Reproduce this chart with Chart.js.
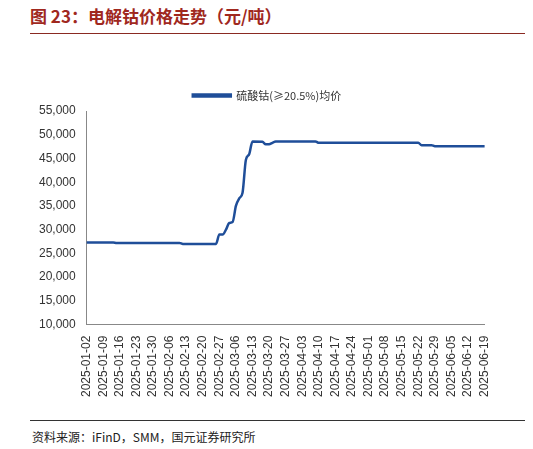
<!DOCTYPE html><html><head><meta charset="utf-8">
<script src="https://cdn.jsdelivr.net/npm/chart.js@4"></script>
<style>body{margin:0;width:533px;height:449px;background:#fff;font-family:"Noto Sans CJK SC",sans-serif;position:relative;overflow:hidden}
#t{position:absolute;left:30px;top:3px;font-size:17px;font-weight:bold;color:#a0281e}
#l1{position:absolute;left:30px;right:8px;top:33px;border-top:1.5px solid #8a2a22}
#l2{position:absolute;left:30px;right:8px;top:420px;border-top:1.5px solid #333}
#s{position:absolute;left:32px;top:428px;font-size:12px;color:#222}
#c{position:absolute;left:36px;top:80px}</style></head><body>
<div id="t">图 23：电解钴价格走势（元/吨）</div><div id="l1"></div>
<div id="c"><canvas id="cv" width="466" height="320"></canvas></div>
<div id="l2"></div><div id="s">资料来源：iFinD，SMM，国元证券研究所</div>
<script>
const seriesName='硫酸钴(≥20.5%)均价';
const keyDates=['2025-01-02','2025-01-14','2025-01-15','2025-02-11','2025-02-12','2025-02-26','2025-02-27','2025-02-28','2025-03-03','2025-03-04','2025-03-05','2025-03-06','2025-03-07','2025-03-10','2025-03-11','2025-03-12','2025-03-13','2025-03-18','2025-03-19','2025-03-20','2025-03-21','2025-03-24','2025-04-09','2025-04-10','2025-05-22','2025-05-23','2025-05-28','2025-05-29','2025-06-19'];
const keyValues=[27300,27300,27200,27200,27000,27000,29000,29000,30000,31400,31600,35000,36600,37800,44700,45900,48600,48500,48000,48000,48300,48600,48600,48300,48300,47800,47800,47600,47600];
const labels=[];
for(let d=new Date(Date.UTC(2025,0,2));d<=new Date(Date.UTC(2025,5,19));d.setUTCDate(d.getUTCDate()+1)){const w=d.getUTCDay();if(w>0&&w<6)labels.push(d.toISOString().slice(0,10));}
new Chart(document.getElementById('cv'),{type:'line',data:{labels,datasets:[{label:seriesName,data:keyDates.map((x,i)=>({x,y:keyValues[i]})),borderColor:'#1f4e99',backgroundColor:'#1f4e99',borderWidth:2.5,pointRadius:0,cubicInterpolationMode:'monotone'}]},
options:{responsive:false,animation:false,layout:{padding:{right:4}},plugins:{legend:{labels:{boxWidth:38,boxHeight:2,font:{size:11,family:'Noto Sans CJK SC'},color:'#333'}}},
scales:{x:{grid:{display:false},border:{color:'#888'},ticks:{autoSkip:false,maxRotation:90,minRotation:90,font:{size:12,family:'Liberation Sans'},color:'#333',callback:function(v,i){return i%5===0?labels[i]:null;}}},
y:{min:10000,max:55000,grid:{display:false},border:{color:'#888'},ticks:{stepSize:5000,font:{size:12,family:'Liberation Sans'},color:'#333',callback:v=>v.toLocaleString('en-US')}}}}});
</script></body></html>
